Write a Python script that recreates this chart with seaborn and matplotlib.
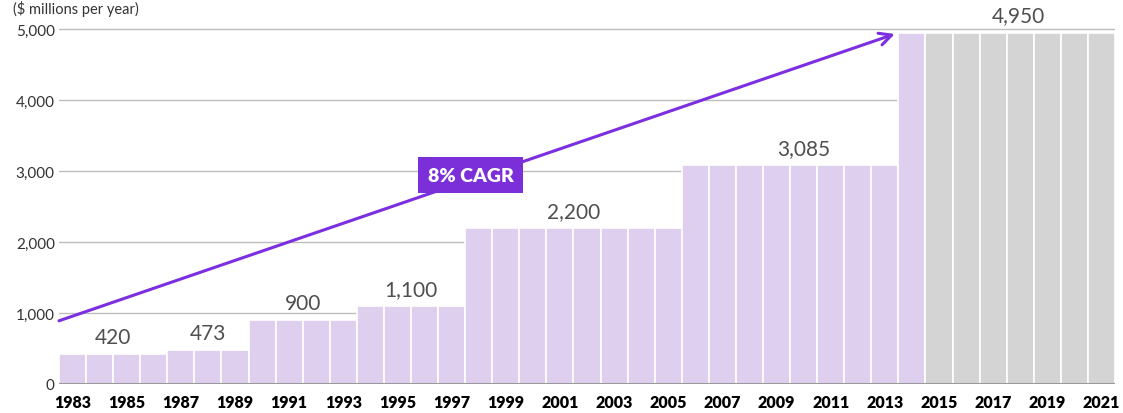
import pandas as pd
import matplotlib.pyplot as plt
import seaborn as sns

# ========================
# Data
# ========================
years = list(range(1983, 2022))
step_starts = [1983, 1987, 1990, 1994, 1998, 2006, 2014]
step_values = [420, 473, 900, 1100, 2200, 3085, 4950]
step_labels = ["420", "473", "900", "1,100", "2,200", "3,085", "4,950"]
first_gray_year = 2015

values = []
for y in years:
    v = None
    for s, val in zip(step_starts, step_values):
        if y >= s:
            v = val
    values.append(v)

df = pd.DataFrame({
    "year": [str(y) for y in years],
    "value": values,
    "group": ["future" if y >= first_gray_year else "past" for y in years],
})

cagr_text = "8% CAGR"
cagr_start = 890
cagr_end = 4930

# ========================
# Plot
# ========================
sns.set_style("white")
plt.rcParams["font.family"] = ["Lato", "DejaVu Sans"]

fig = plt.figure(figsize=(11.23, 4.14), dpi=100)
ax = fig.add_axes([59 / 1123, 29 / 414, (1115 - 59) / 1123, 385 / 414])

sns.barplot(data=df, x="year", y="value", hue="group",
            palette={"past": "#ddcaf4", "future": "#d4d4d4"},
            dodge=False, width=1.0, edgecolor="white", linewidth=1.2,
            legend=False, ax=ax, zorder=2)

ax.set_xlim(-0.5, len(years) - 0.5)
ax.set_ylim(0, 5000 * 385 / 355)
ax.set_yticks([0, 1000, 2000, 3000, 4000, 5000])
ax.set_yticklabels(["0", "1,000", "2,000", "3,000", "4,000", "5,000"],
                   fontsize=11, color="#333333")
ax.set_xticks(range(0, len(years), 2))
ax.set_xticklabels([str(y) for y in years[::2]], fontsize=11.5,
                   fontweight="heavy", color="#000000")
ax.tick_params(axis="both", length=0)
ax.tick_params(axis="y", pad=3)
ax.tick_params(axis="x", pad=7)
ax.set_xlabel("")
ax.set_ylabel("")

for yv in [1000, 2000, 3000, 4000, 5000]:
    ax.axhline(yv, color="#bdbdbd", lw=1, zorder=1)
ax.axhline(0, color="#9a9a9a", lw=2.2, zorder=3)
for side in ["top", "right", "left", "bottom"]:
    ax.spines[side].set_visible(False)

# value labels over each step
label_shift = {"3,085": 0.5, "4,950": 0.45}
ends = step_starts[1:] + [years[-1] + 1]
for s, e, val, lab in zip(step_starts, ends, step_values, step_labels):
    xc = (s - years[0] + e - 1 - years[0]) / 2 + label_shift.get(lab, 0)
    ax.text(xc, val + 100, lab, ha="center", va="bottom", fontsize=15,
            color="#4f4f4f", zorder=4)

# CAGR arrow
ax.annotate("", xy=(30.37, cagr_end), xytext=(-0.5, cagr_start),
            arrowprops=dict(arrowstyle="->", color="#7b2fe0", lw=2.2,
                            mutation_scale=22, shrinkA=0, shrinkB=0),
            zorder=5, annotation_clip=False)
ax.text(14.7, 2940, cagr_text, ha="center", va="center", fontsize=14,
        fontweight="heavy", color="white", zorder=6,
        bbox=dict(boxstyle="square,pad=0.5", fc="#7b2fd9", ec="none"))

fig.text(13 / 1123, 1 - 1 / 414, "($ millions per year)", ha="left",
         va="top", fontsize=10.5, color="#333333")

fig.savefig("out.png", dpi=100)
